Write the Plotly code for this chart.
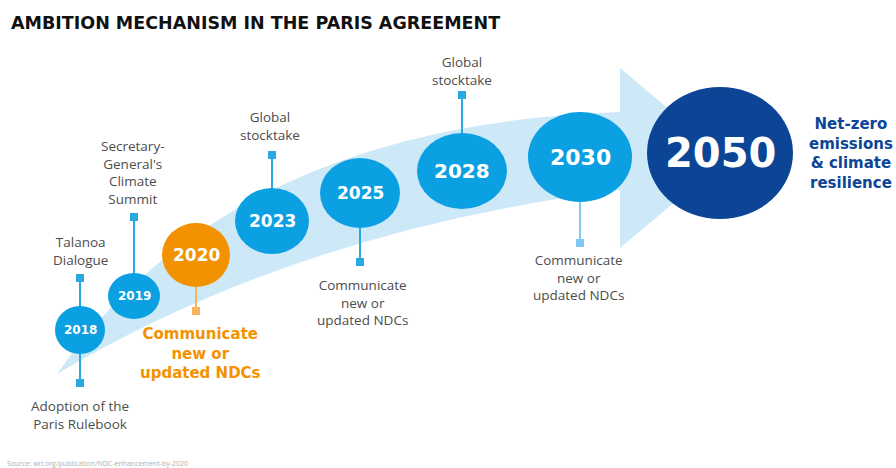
import plotly.graph_objects as go

# ---- content ----
title_text = "AMBITION MECHANISM IN THE PARIS AGREEMENT"
source_text = "Source: wri.org/publication/NDC-enhancement-by-2020"
years = ["2018", "2019", "2020", "2023", "2025", "2028", "2030", "2050"]
milestones = [
    "Talanoa<br>Dialogue",
    "Secretary-<br>General's<br>Climate<br>Summit",
    "Communicate<br>new or<br>updated NDCs",
    "Global<br>stocktake",
    "Communicate<br>new or<br>updated NDCs",
    "Global<br>stocktake",
    "Communicate<br>new or<br>updated NDCs",
    "Net-zero<br>emissions<br>& climate<br>resilience",
]
extra_milestone = "Adoption of the<br>Paris Rulebook"  # attached to 2018, below

# ---- layout (pixel positions in the 896x468 canvas) ----
circ_cx = [80, 134, 196, 272, 360, 462, 580, 720]
circ_cy = [330, 296, 255, 221, 193, 171, 157, 153]
circ_rx = [25, 26, 34, 37, 40, 45, 52, 73]
circ_ry = [24, 23, 32, 33, 35, 38, 45, 66]
year_size = [12, 12, 17, 17, 17, 20, 22, 40]
sq_y = [278, 217, 311, 155, 262, 95, 243, None]
label_y = [251, 172, 353, 126, 302, 71, 277, 153]
label_x = [80, 133, 200, 270, 362, 462, 578, 851]

LIGHT = "#0aa0e2"
DARK = "#0c4595"
ORANGE = "#f39200"
BAND = "#cde9f8"
GREY = "#4d4d4d"
LINE = "#2aa8e2"

fig = go.Figure()
shapes = []
annotations = []

band_path = ("M 57 374 Q 230 125 620 112 L 620 68 L 727 158 L 620 248 "
             "L 620 190 Q 300 230 57 374 Z")
shapes.append(dict(type="path", path=band_path, fillcolor=BAND,
                   line=dict(width=0), xref="x", yref="y", layer="above"))

def connector(x, y_from, y_to, color):
    shapes.append(dict(type="line", x0=x, x1=x, y0=y_from, y1=y_to,
                       line=dict(color=color, width=2), xref="x", yref="y"))
    shapes.append(dict(type="rect", x0=x - 4, x1=x + 4, y0=y_to - 4, y1=y_to + 4,
                       fillcolor=color, line=dict(width=0), xref="x", yref="y"))

for i, yr in enumerate(years):
    cx, cy = circ_cx[i], circ_cy[i]
    lcol = "#f6b45c" if yr == "2020" else ("#7fcaf0" if yr == "2030" else LINE)
    if sq_y[i] is not None:
        connector(cx, cy, sq_y[i], lcol)
    if yr == "2018":
        connector(cx, cy, 383, LINE)

for i, yr in enumerate(years):
    col = ORANGE if yr == "2020" else (DARK if yr == "2050" else LIGHT)
    shapes.append(dict(type="circle", x0=circ_cx[i] - circ_rx[i], x1=circ_cx[i] + circ_rx[i],
                       y0=circ_cy[i] - circ_ry[i], y1=circ_cy[i] + circ_ry[i],
                       fillcolor=col, line=dict(width=0), xref="x", yref="y"))
    annotations.append(dict(x=circ_cx[i], y=circ_cy[i], text=yr, showarrow=False,
                            xref="x", yref="y", xanchor="center", yanchor="middle",
                            font=dict(family="DejaVu Sans", size=year_size[i],
                                      color="white", weight="bold")))

for i, yr in enumerate(years):
    if yr == "2020":
        font = dict(family="DejaVu Sans", size=15, color=ORANGE, weight="bold")
    elif yr == "2050":
        font = dict(family="DejaVu Sans", size=15, color=DARK, weight="bold")
    else:
        font = dict(family="Open Sans", size=13.5, color=GREY)
    annotations.append(dict(x=label_x[i], y=label_y[i], text=milestones[i], showarrow=False,
                            xref="x", yref="y", xanchor="center", yanchor="middle",
                            align="center", font=font))

annotations.append(dict(x=80, y=415, text=extra_milestone, showarrow=False,
                        xref="x", yref="y", xanchor="center", yanchor="middle",
                        align="center", font=dict(family="Open Sans", size=13.5, color=GREY)))

annotations.append(dict(x=9, y=23, text=title_text, showarrow=False, xref="x", yref="y",
                        xanchor="left", yanchor="middle",
                        font=dict(family="DejaVu Sans", size=17.5, color="#111111", weight="bold")))
annotations.append(dict(x=5, y=463, text=source_text, showarrow=False, xref="x", yref="y",
                        xanchor="left", yanchor="middle",
                        font=dict(family="Open Sans", size=7, color="#b0b0b0")))

fig.update_layout(
    width=896, height=468,
    margin=dict(l=0, r=0, t=0, b=0),
    paper_bgcolor="white", plot_bgcolor="white",
    xaxis=dict(range=[0, 896], visible=False, fixedrange=True),
    yaxis=dict(range=[468, 0], visible=False, fixedrange=True),
    shapes=shapes, annotations=annotations, showlegend=False,
)

fig.write_html("out.html", config={"displayModeBar": False},
               post_script="document.body.style.margin='0';")
